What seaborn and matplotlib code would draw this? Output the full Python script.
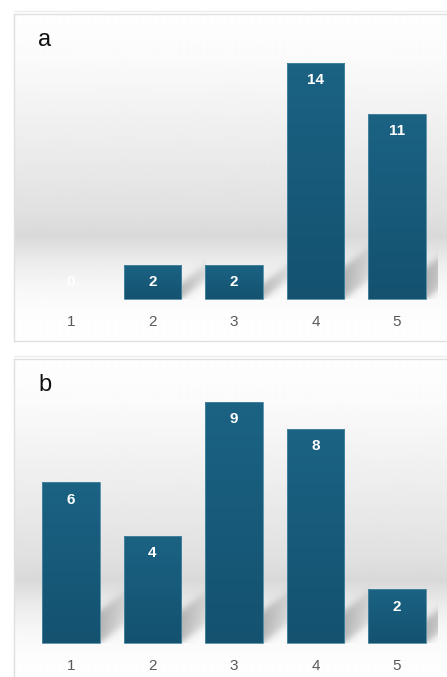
import numpy as np
import pandas as pd
import matplotlib
matplotlib.use("Agg")
import matplotlib.pyplot as plt
from matplotlib.colors import LinearSegmentedColormap
from matplotlib.lines import Line2D
import seaborn as sns

# ---------------- data ----------------
categories = ["1", "2", "3", "4", "5"]
values_a = [0, 2, 2, 14, 11]
values_b = [6, 4, 9, 8, 2]
panel_labels = ["a", "b"]

# ---------------- style ----------------
sns.set_style("white")
plt.rcParams["font.family"] = ["Liberation Sans", "DejaVu Sans"]

W, H = 447, 677
fig = plt.figure(figsize=(W / 100, H / 100), dpi=100)

BAR_TOP = "#1b6283"
BAR_BOT = "#145270"
bar_cmap = LinearSegmentedColormap.from_list("bar", [BAR_BOT, BAR_TOP])
FRAME = "#e0e0e0"


def sig(z):
    return 1 / (1 + np.exp(-z))


def make_panel(values, label, box_px, base_px, px_per_unit, clip_right_px):
    left, top, right, bottom = box_px
    ax = fig.add_axes([left / W, 1 - bottom / H, (right - left) / W, (bottom - top) / H])
    df = pd.DataFrame({"cat": categories, "val": values})
    sns.barplot(data=df, x="cat", y="val", ax=ax, color=BAR_TOP, saturation=1,
                width=0.71, edgecolor="#4a87a2", linewidth=0.6, zorder=3)

    spacing = 81.5
    x_left = -(71 - left) / spacing
    x_right = x_left + (right - left) / spacing
    y_bot = -(bottom - base_px) / px_per_unit
    y_top = (base_px - top) / px_per_unit

    # background gradient (per pixel row)
    rows = np.arange(top, bottom)
    d = base_px - rows
    gray = np.interp(d, [-60, -10, 15, 40, 63, 85, 150, 245, 300, 400],
                     [1.0, 0.99, 0.965, 0.92, 0.85, 0.88, 0.925, 0.985, 1.0, 1.0])
    bg = np.repeat(gray[:, None], 2, axis=1)
    ax.imshow(bg, extent=[x_left, x_right, y_bot, y_top], aspect="auto",
              cmap="gray", vmin=0, vmax=1, zorder=0, interpolation="bilinear")

    pxx = 1 / spacing
    pxy = 1 / px_per_unit

    for p in list(ax.patches):
        x0, y0, w, h = p.get_x(), p.get_y(), p.get_width(), p.get_height()
        if h <= 0:
            p.set_linewidth(0)
            p.set_visible(False)
            continue
        grad = np.linspace(1, 0, 50)[:, None]
        im = ax.imshow(grad, extent=[x0, x0 + w, y0, y0 + h], aspect="auto",
                       cmap=bar_cmap, vmin=0, vmax=1, zorder=3.5)
        im.set_clip_path(p)
        p.set_facecolor("none")
        p.set_zorder(4)

        # soft diagonal shadow to the right of the bar
        R = x0 + w
        h_px = h * px_per_unit
        hs = min(32, 0.45 * h_px)
        R_px = 71 + R * spacing
        length = min(25, clip_right_px - R_px)
        slope = 0.75
        u = np.arange(0, length, 0.5)
        v = np.arange(0, 70, 0.5)
        U, V = np.meshgrid(u, v)
        low = slope * U
        up = hs + slope * U
        s = 2.5
        alpha = 0.42 * sig((V - low) / s) * sig((up - V) / s) * np.clip(1 - U / 40, 0, 1)
        rgba = np.zeros(U.shape + (4,))
        rgba[..., :3] = 0.35
        rgba[..., 3] = alpha
        ax.imshow(rgba, origin="lower",
                  extent=[R, R + length * pxx, 0, 70 * pxy],
                  aspect="auto", zorder=2, interpolation="bilinear")

    for i, v in enumerate(values):
        h_px = v * px_per_unit
        if h_px >= 35:
            ytxt = v - 17.5 * pxy
        else:
            ytxt = 17 * pxy
        ax.text(i, ytxt, str(v), ha="center", va="center", color="white",
                fontsize=11, fontweight="bold", zorder=6)

    ax.set_xticks([])
    ax.set_yticks([])
    for i, c in enumerate(categories):
        ax.text(i, -23 * pxy, c, ha="center", va="center", color="#5a5a5a",
                fontsize=11, zorder=6)

    ax.set_xlim(x_left, x_right)
    ax.set_ylim(y_bot, y_top)
    ax.set_xlabel("")
    ax.set_ylabel("")
    for s_ in ["top", "left", "bottom"]:
        ax.spines[s_].set_color(FRAME)
        ax.spines[s_].set_linewidth(1.0)
    ax.spines["right"].set_visible(False)

    fig.add_artist(Line2D([left / W, 1], [1 - (top - 3) / H] * 2,
                          color="#ececec", lw=1.0))
    fig.text(38 / W, 1 - (top + 26) / H, label, ha="left", va="center",
             fontsize=17, color="#111111")
    return ax


make_panel(values_a, panel_labels[0], (14, 14, 452, 341), 299, 16.86, 437)
make_panel(values_b, panel_labels[1], (14, 359, 452, 685), 643, 26.8, 437)

fig.savefig("out.png", dpi=100)
